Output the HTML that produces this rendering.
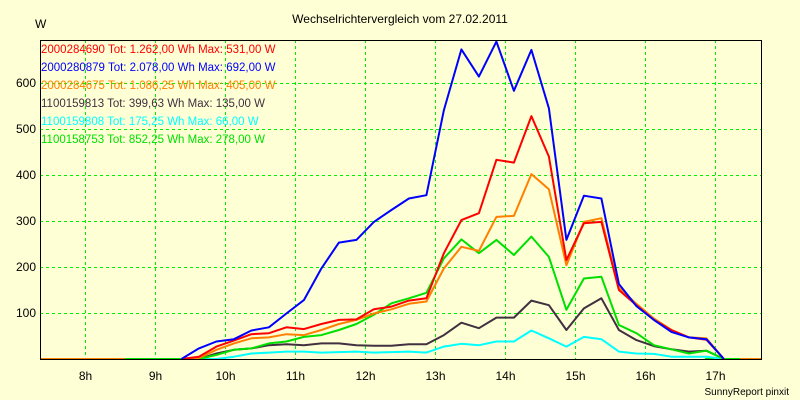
<!DOCTYPE html>
<html><head><meta charset="utf-8"><style>
html,body{margin:0;padding:0;background:#ffffd6;}
svg{display:block;font-family:"Liberation Sans",sans-serif;}
</style></head><body>
<svg width="800" height="400" viewBox="0 0 800 400">
<rect x="0" y="0" width="800" height="400" fill="#ffffd6"/>
<text x="400" y="23" font-size="12" text-anchor="middle" fill="#000">Wechselrichtervergleich vom 27.02.2011</text>
<text x="35" y="28" font-size="12" fill="#000">W</text>
<g id="grid"></g>
<g id="axes"></g>
<g id="series"></g>
<rect x="40.5" y="40.5" width="721" height="319" fill="none" stroke="#000" stroke-width="1" shape-rendering="crispEdges"/>
<g id="legend"></g>
<text x="789" y="395" font-size="10" text-anchor="end" fill="#000">SunnyReport pinxit</text>
</svg>
<script>
const startTime = 9.37, stepTime = 0.25;
const yTicks = [100,200,300,400,500,600];
const xTicks = [8,9,10,11,12,13,14,15,16,17];
const xTickLabels = ["8h","9h","10h","11h","12h","13h","14h","15h","16h","17h"];
const names = ["2000284690","2000280879","2000284675","1100159813","1100159808","1100158753"];
const totals = ["Tot: 1.262,00 Wh Max: 531,00 W","Tot: 2.078,00 Wh Max: 692,00 W","Tot: 1.086,25 Wh Max: 405,00 W","Tot: 399,63 Wh Max: 135,00 W","Tot: 175,25 Wh Max: 66,00 W","Tot: 852,25 Wh Max: 278,00 W"];
const colors = ["#ff0000","#0000ff","#ff8000","#403040","#00ffff","#00e000"];
const red = [0,5,27,40,54,56,69,65,76,85,86,108,114,127,132,230,302,317,433,427,528,440,215,295,298,150,117,85,63,47,42,0];
const blue = [0,23,38,43,62,69,99,128,197,253,259,298,324,349,356,541,673,614,690,583,672,545,259,355,349,163,115,85,59,47,43,0];
const orange = [0,2,20,34,45,47,54,52,63,76,85,99,108,120,125,197,244,235,309,311,402,369,204,298,306,155,120,88,63,47,45,0];
const dark = [0,0,12,20,23,30,32,30,34,34,30,29,29,32,32,52,79,67,90,90,127,117,63,110,132,63,41,28,21,16,18,0];
const cyan = [0,0,0,5,12,14,16,16,14,15,16,14,15,16,14,27,33,30,38,38,62,45,27,48,43,16,12,11,5,5,5,0];
const green = [0,0,9,20,23,34,38,48,52,63,76,96,121,132,144,219,260,230,259,226,266,222,107,175,179,74,56,30,21,12,18,0];
const seriesData = [red,blue,orange,dark,cyan,green];
const drawOrder = [3,4,5,2,0,1];

const NS="http://www.w3.org/2000/svg";
function xs(h){return 435.5+(h-13)*70;}
function ys(v){return 359-v*0.46;}
function mk(tag,attrs,parent){const e=document.createElementNS(NS,tag);for(const k in attrs)e.setAttribute(k,attrs[k]);parent.appendChild(e);return e;}
const grid=document.getElementById('grid'),axes=document.getElementById('axes'),ser=document.getElementById('series'),leg=document.getElementById('legend');
yTicks.forEach(v=>{
  const yy=Math.round(ys(v))+0.5;
  const l=mk('line',{x1:40,x2:761,y1:yy,y2:yy,stroke:'#00ee00','stroke-dasharray':'3,3','shape-rendering':'crispEdges'},grid);
  
  
  const t=mk('text',{x:36,y:ys(v)+4,'font-size':12,'text-anchor':'end'},axes);
  t.textContent=v;
  
  
});
xTicks.forEach((h,i)=>{
  const xx=Math.floor(xs(h))+0.5;
  const l=mk('line',{x1:xx,x2:xx,y1:40,y2:359,stroke:'#00ee00','stroke-dasharray':'3,3','shape-rendering':'crispEdges'},grid);
  
  
  const t=mk('text',{x:xs(h),y:380,'font-size':12,'text-anchor':'middle'},axes);
  t.textContent=xTickLabels[i];
  
  
});
const z1=mk('line',{x1:40,x2:125,y1:359,y2:359,stroke:'#ff8000','stroke-width':2},ser);


const z2=mk('line',{x1:125,x2:181,y1:359,y2:359,stroke:'#00e000','stroke-width':2},ser);


const z3=mk('line',{x1:705,x2:740,y1:359,y2:359,stroke:'#00e000','stroke-width':2},ser);


const z4=mk('line',{x1:740,x2:761,y1:359,y2:359,stroke:'#ff8000','stroke-width':2},ser);


drawOrder.forEach(i=>{
  const pts=seriesData[i].map((v,k)=>xs(startTime+k*stepTime).toFixed(1)+','+ys(v).toFixed(1)).join(' ');
  const p=mk('polyline',{points:pts,fill:'none',stroke:colors[i],'stroke-width':2,'stroke-linejoin':'round'},ser);
  
  
});
names.forEach((n,i)=>{
  const t=mk('text',{x:41,y:53+i*18,'font-size':11.5,fill:colors[i]},leg);
  t.textContent=n+' '+totals[i];
  
  
});
</script>
</body></html>
